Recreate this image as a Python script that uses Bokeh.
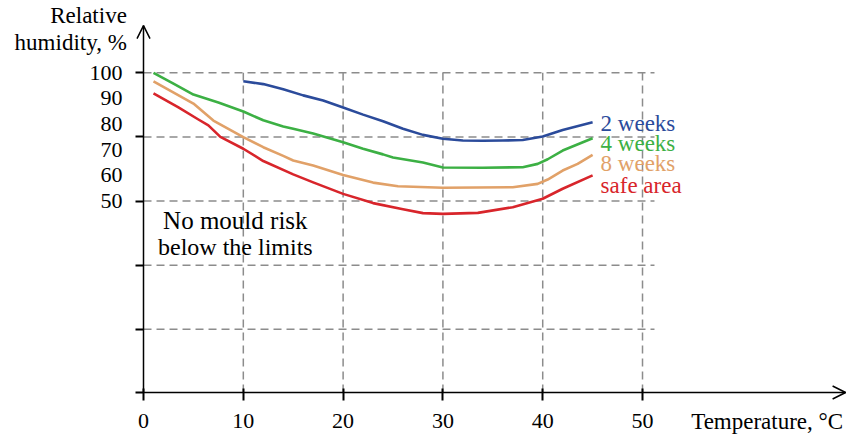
from bokeh.plotting import figure
from bokeh.models import Range1d, FixedTicker, Label, Arrow, OpenHead
from bokeh.embed import file_html
from bokeh.resources import INLINE

# ---- data ----
temp_2w = [10, 12, 14, 16, 18, 20, 22, 24, 26, 28, 30, 32, 34, 36, 38, 40, 42, 45]
rh_2w = [96.7, 95.6, 93.6, 91.2, 89.2, 86.5, 83.7, 81.1, 78.2, 75.8, 74.3, 73.6, 73.5, 73.6, 73.8, 75.2, 77.7, 80.7]

temp_4w = [1, 3, 5, 7.5, 10, 12, 14, 15, 17, 20, 22, 24, 25, 28, 30, 34, 38, 39.5, 40.5, 42, 45]
rh_4w = [100, 95.8, 91.5, 88.4, 84.9, 81.5, 79.1, 78.2, 76.3, 72.9, 70.4, 68.2, 67.0, 65.0, 63.1, 63.0, 63.2, 64.5, 66.3, 69.7, 74.5]

temp_8w = [1, 5, 7, 10, 12, 14, 15, 17, 20, 23, 25.5, 30, 37, 39.5, 40.5, 42, 43.5, 45]
rh_8w = [96.7, 88.0, 81.4, 74.9, 71.0, 67.6, 65.8, 63.9, 60.2, 57.2, 55.8, 55.2, 55.4, 56.7, 58.4, 61.9, 64.5, 68.0]

temp_safe = [1, 3.5, 5.5, 6.5, 7.7, 10, 12, 15, 17, 20, 23, 26, 28, 30, 33.5, 37, 40, 42, 45]
rh_safe = [92.0, 86.5, 81.8, 79.5, 75.0, 70.4, 65.6, 60.4, 57.3, 52.8, 49.2, 46.8, 45.3, 45.0, 45.4, 47.6, 50.9, 54.8, 60.0]

series_names = ["2 weeks", "4 weeks", "8 weeks", "safe area"]
series_colors = ["#2b4b9b", "#3cb044", "#e1a168", "#d8252b"]

x_ticks = [0, 10, 20, 30, 40, 50]
y_tick_labels = [100, 90, 80, 70, 60, 50]
y_grid = [100, 75, 50, 25, 0]
x_grid = [10, 20, 30, 40, 50]

FONT = "Liberation Serif"

# ---- ranges (frame covers the whole canvas; axes are drawn at fixed locations) ----
x_lo, x_hi = -14.33, 70.54
y_lo, y_hi = -41.4, 128.19
y_axis_at = 0          # the humidity axis stands at 0 °C
x_axis_at = -24.64     # the temperature axis lies below the 0 % grid line
x_tip = 70.35
y_tip = 118.4
grid_x_end = 51.2

p = figure(width=847, height=435, output_backend="svg", toolbar_location=None,
           x_range=Range1d(x_lo, x_hi), y_range=Range1d(y_lo, y_hi),
           min_border=0)
p.outline_line_color = None
p.xgrid.visible = False
p.ygrid.visible = False
p.background_fill_color = "white"
p.border_fill_color = "white"

# grid
grid_kw = dict(line_color="#8c8c8c", line_width=1.5, line_dash="8 5")
p.segment(x0=[y_axis_at] * len(y_grid), y0=y_grid, x1=[grid_x_end] * len(y_grid), y1=y_grid, **grid_kw)
p.segment(x0=x_grid, y0=[x_axis_at] * len(x_grid), x1=x_grid, y1=[max(y_grid)] * len(x_grid), **grid_kw)

# curves
for xs, ys, c in [(temp_2w, rh_2w, series_colors[0]), (temp_4w, rh_4w, series_colors[1]),
                  (temp_8w, rh_8w, series_colors[2]), (temp_safe, rh_safe, series_colors[3])]:
    p.line(xs, ys, line_color=c, line_width=2.6, line_join="round")

# x axis
xa = p.xaxis[0]
xa.fixed_location = x_axis_at
xa.ticker = FixedTicker(ticks=x_ticks)
xa.bounds = (y_axis_at, x_tip)
xa.axis_line_width = 1.5
xa.axis_line_color = "black"
xa.major_tick_in = 4
xa.major_tick_out = 8
xa.major_tick_line_width = 2
xa.major_tick_line_color = "black"
xa.minor_tick_line_color = None
xa.major_label_standoff = 13
xa.major_label_text_font = FONT
xa.major_label_text_font_size = "22px"
xa.major_label_text_color = "black"

# y axis
ya = p.yaxis[0]
ya.fixed_location = y_axis_at
ya.ticker = FixedTicker(ticks=y_tick_labels, minor_ticks=y_grid + [x_axis_at])
ya.bounds = (x_axis_at, y_tip)
ya.axis_line_width = 1.5
ya.axis_line_color = "black"
ya.major_tick_line_color = None
ya.major_tick_in = 0
ya.major_tick_out = 0
ya.minor_tick_in = 0
ya.minor_tick_out = 8
ya.minor_tick_line_width = 2
ya.minor_tick_line_color = "black"
ya.major_label_standoff = 13
ya.major_label_text_font = FONT
ya.major_label_text_font_size = "22px"
ya.major_label_text_color = "black"

# arrow heads
p.add_layout(Arrow(end=OpenHead(size=13, line_width=1.5, line_color="black"),
                   x_start=y_axis_at, y_start=y_tip - 5, x_end=y_axis_at, y_end=y_tip, line_color=None))
p.add_layout(Arrow(end=OpenHead(size=13, line_width=1.5, line_color="black"),
                   x_start=x_tip - 3, y_start=x_axis_at, x_end=x_tip, y_end=x_axis_at, line_color=None))

# texts
def lab(x, y, text, color="black", align="left", size="23px"):
    p.add_layout(Label(x=x, y=y, text=text, text_color=color, text_align=align,
                       text_baseline="alphabetic", text_font=FONT, text_font_size=size))

lab(-1.67, 122.3, "Relative", align="right")
lab(-1.67, 111.8, "humidity, %", align="right")
lab(70.1, -35.9, "Temperature, °C", align="right")
lab(9.2, 42.4, "No mould risk", align="center", size="25px")
lab(9.2, 31.9, "below the limits", align="center", size="24px")

for name, c, yy in zip(series_names, series_colors, [80.4, 72.6, 64.5, 56.0]):
    lab(45.8, yy, name, color=c)

open("out.html", "w").write(file_html(p, INLINE))
